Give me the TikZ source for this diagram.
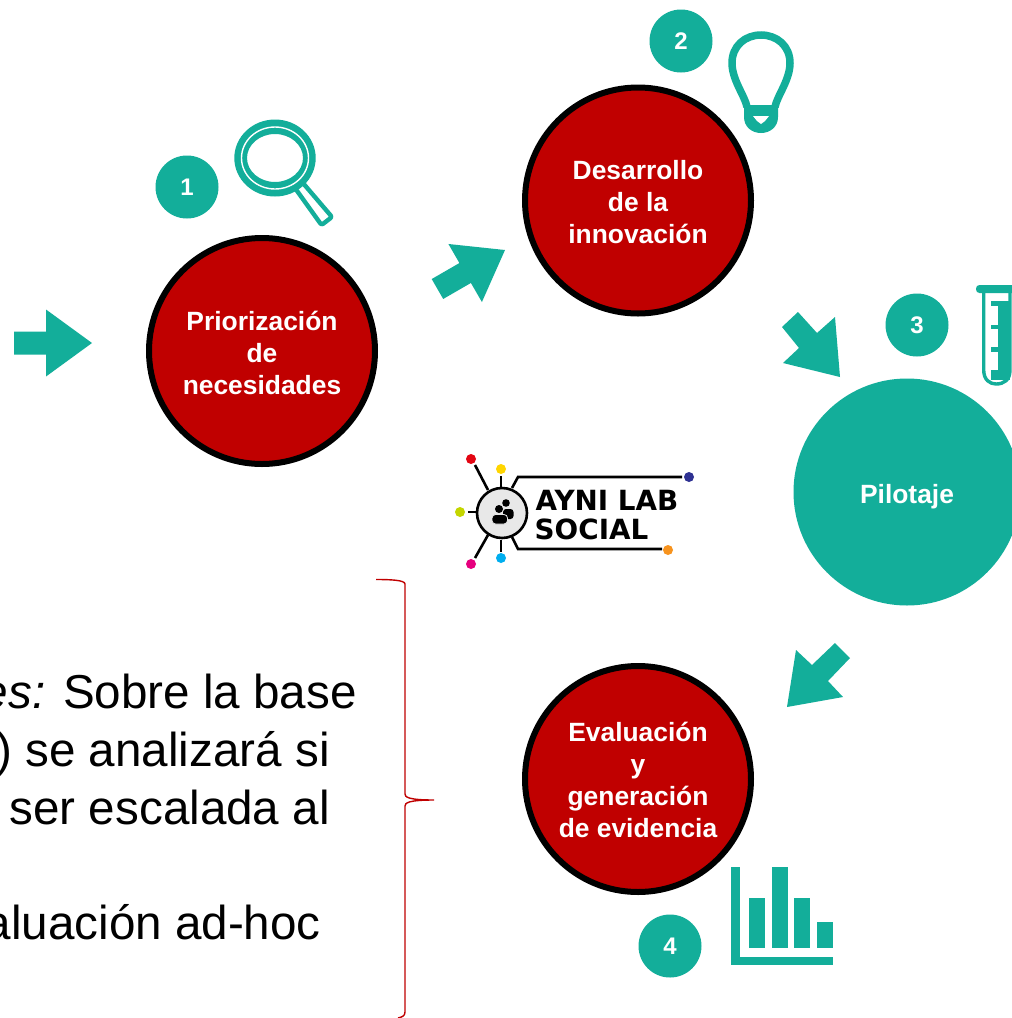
\documentclass[tikz,border=0pt]{standalone}
\usepackage{fontspec}
\setmainfont{Liberation Sans}
\newfontfamily\logofont{DejaVu Sans}
\definecolor{tealc}{HTML}{13AE9A}
\definecolor{redc}{HTML}{C00000}
\definecolor{logogrey}{HTML}{E8E8E8}
\definecolor{dotred}{HTML}{E30613}
\definecolor{dotyellow}{HTML}{FFD500}
\definecolor{dotlime}{HTML}{C4D600}
\definecolor{dotmagenta}{HTML}{E6007E}
\definecolor{dotblue}{HTML}{00AEEF}
\definecolor{dotnavy}{HTML}{2E3192}
\definecolor{dotorange}{HTML}{F7931E}
\tikzset{
  stage/.style={circle,minimum size=226pt,inner sep=0pt,line width=6pt,draw=black,fill=redc},
  stagetext/.style={inner sep=0pt,text=white,align=center,font=\fontsize{26.4}{32}\selectfont\bfseries},
  pilot/.style={circle,minimum size=227pt,inner sep=0pt,fill=tealc},
  badge/.style={circle,minimum size=63pt,inner sep=0pt,fill=tealc,text=white,font=\fontsize{24}{28}\selectfont\bfseries},
  bodyline/.style={anchor=base east,inner sep=0pt,text=black,font=\fontsize{47.6}{58}\selectfont},
  logoline/.style={line width=2.6pt,draw=black},
  logodot/.style={circle,minimum size=10pt,inner sep=0pt},
  logotext/.style={anchor=base west,inner sep=0pt,text=black,font=\fontsize{27.8}{32}\logofont\bfseries},
  arrowfill/.style={fill=tealc,draw=none}
}
\newcommand{\blockarr}[2]{\begin{scope}[shift={(#1)},rotate=#2]
  \fill[arrowfill] (0,0) -- (-46,-33.5) -- (-46,-11.5) -- (-78,-11.5) -- (-78,11.5) -- (-46,11.5) -- (-46,33.5) -- cycle;
\end{scope}}
\begin{document}
\begin{tikzpicture}[x=1pt,y=-1pt]
\useasboundingbox (0,0) rectangle (1012,1018);
\fill[white] (0,0) rectangle (1012,1018);

% stages
\node[stage,label={[stagetext,yshift=-2pt]center:{Priorización\\de\\necesidades}}] (s1) at (262,351) {};
\node[stage,label={[stagetext,yshift=-2pt]center:{Desarrollo\\de la\\innovación}}] (s2) at (638,200.5) {};
\node[pilot,label={[stagetext,yshift=-5pt]center:{Pilotaje}}] (s3) at (907,492) {};
\node[stage,label={[stagetext,yshift=-1pt]center:{Evaluación\\y\\generación\\de evidencia}}] (s4) at (638,779) {};

% badges
\node[badge] (b1) at (187,187) {1};
\node[badge] (b2) at (681,41) {2};
\node[badge] (b3) at (917,325) {3};
\node[badge] (b4) at (670,946) {4};

% block arrows
\coordinate (t0) at (92,343);
\coordinate (t1) at (505,250);
\blockarr{t0}{0}
\blockarr{t1}{30}
\fill[arrowfill] (798,312) -- (782,327) -- (799,348) -- (783,363) -- (840,377) -- (835,317) -- (817,333) -- cycle;
\fill[arrowfill] (835,643) -- (850,658) -- (828,681) -- (843,697) -- (787,707) -- (796,650) -- (812,665) -- cycle;

% magnifier
\draw[line width=4.4pt,draw=tealc,fill=white,line join=round,rounded corners=2pt]
  (293.6,186.1) -- (301.4,181.2) -- (332,217) -- (321.5,225) -- cycle;
\fill[tealc,even odd rule] (275,158) ellipse[x radius=40.7,y radius=38.5] (275,158) ellipse[x radius=28,y radius=24];
\draw[white,line width=1.4pt] (275,158) ellipse[x radius=33.5,y radius=31];

% bulb
\draw[tealc,line width=7.5pt] (747,107) .. controls (745,96) and (732,80) .. (732,63)
  .. controls (732,46) and (745,35) .. (761,35)
  .. controls (777,35) and (790,46) .. (790,63)
  .. controls (790,80) and (777,96) .. (775,107);
\fill[tealc] (744,105) -- (778,105) -- (778,117) .. controls (778,127) and (770,133) .. (761,133)
  .. controls (752,133) and (744,127) .. (744,117) -- cycle;
\fill[white] (753,116) -- (769,116) -- (765,121) -- (761,124) -- (757,121) -- cycle;

% test tube
\draw[tealc,line width=3.4pt] (983.7,291) -- (983.7,370) .. controls (983.7,380) and (990,384) .. (996,384)
  .. controls (1004,384) and (1010,380) .. (1010,370) -- (1010,291);
\fill[tealc,rounded corners=3.5pt] (976,285) rectangle (1016,293);
\fill[tealc] (998,301) rectangle (1010,380);
\fill[tealc] (991,301) rectangle (1000,306);
\fill[tealc] (991,325) rectangle (1000,329);
\fill[tealc] (991,347) rectangle (1000,352);
\fill[tealc] (991,370) rectangle (1000,380);

% bar chart
\fill[tealc] (731,867) rectangle (740,965);
\fill[tealc] (731,957) rectangle (833,965);
\fill[tealc] (749,898) rectangle (765,948);
\fill[tealc] (772,867) rectangle (788,948);
\fill[tealc] (794,898) rectangle (810,948);
\fill[tealc] (817,922) rectangle (833,948);

% logo
\draw[logoline,fill=logogrey] (502,513) circle[radius=25];
\node[logodot,fill=dotred] (d1) at (471,459) {};
\node[logodot,fill=dotyellow] (d2) at (501,469) {};
\node[logodot,fill=dotlime] (d3) at (460,512) {};
\node[logodot,fill=dotmagenta] (d4) at (471,564) {};
\node[logodot,fill=dotblue] (d5) at (501,558) {};
\node[logodot,fill=dotnavy] (d6) at (689,477) {};
\node[logodot,fill=dotorange] (d7) at (668,550) {};
\draw[logoline] (475,465) -- (488,490);
\draw[logoline] (501,476) -- (501,488);
\draw[logoline] (468,512) -- (477,512);
\draw[logoline] (475,558) -- (488,535);
\draw[logoline] (501,540) -- (501,552);
\draw[logoline] (512,488) -- (518,477) -- (682,477);
\draw[logoline] (512,537) -- (518,549) -- (662,549);
\fill[black] (506,503) circle[radius=3.8];
\fill[black,rounded corners=3pt] (503,509) rectangle (513.5,519);
\fill[logogrey] (499,509) circle[radius=5];
\fill[black] (499,509) circle[radius=4];
\draw[logogrey,line width=0.8pt,fill=black,rounded corners=3.5pt] (492,524) -- (492,514.5) -- (507.5,514.5) -- (507.5,524) -- cycle;
\node[logotext] (l1) at (535.5,510) {AYNI LAB};
\node[logotext] (l2) at (534.5,539) {SOCIAL};

% body text (cropped by the page edge, as in the reference)
\node[bodyline] (t1line) at (357,708) {\textit{es:} Sobre la base};
\node[bodyline] (t2line) at (330,766) {) se analizará si};
\node[bodyline] (t3line) at (330,824) {ser escalada al};
\node[bodyline] (t4line) at (321,939) {aluación ad-hoc};

% brace
\draw[redc,line width=1.4pt] (376,579.5) .. controls (390,579.5) and (405,580) .. (405,584)
  -- (405,794) .. controls (405,797) and (408,800) .. (434,800)
  .. controls (408,800) and (405,803) .. (405,806) -- (405,1012)
  .. controls (405,1016) and (402,1017) .. (398,1018);
\end{tikzpicture}
\end{document}
